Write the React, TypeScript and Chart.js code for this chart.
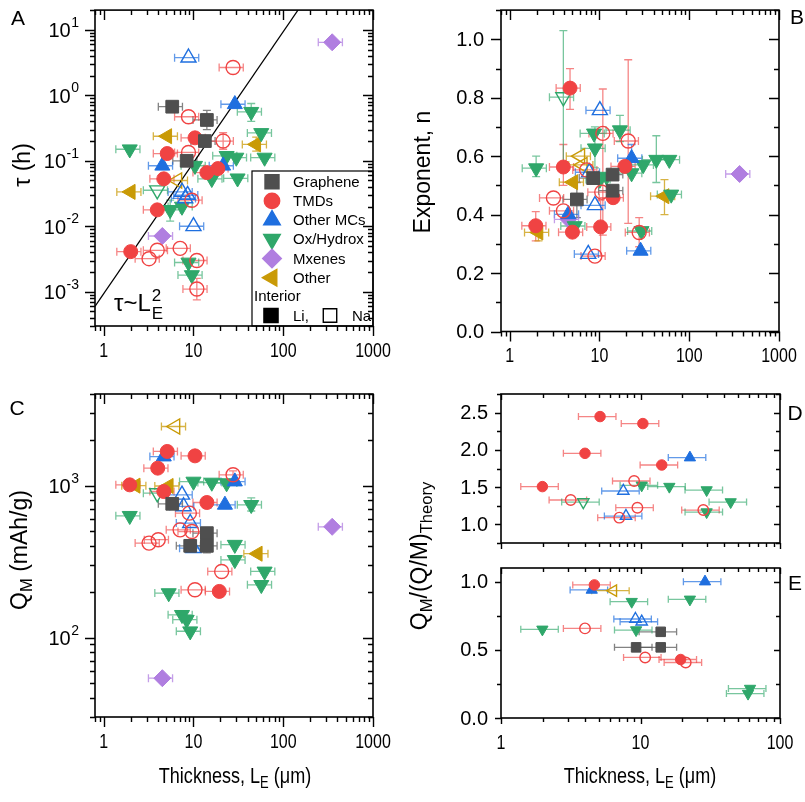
import React, { useEffect, useRef } from 'react';
import { Chart, registerables } from 'chart.js';

Chart.register(...registerables);

// Each point: [x (thickness, um), y, relative x-error, y-error low, y-error high]
type Pt = [number, number, number, number?, number?];

// ---------------- Panel A : tau (h) ----------------
const A_GRA: Pt[] = [[5.8, 0.67, 0.3], [14.1, 0.42, 0.3, 0.30, 0.59], [13.4, 0.2, 0.3], [8.4, 0.1, 0.3]];
const A_TMD_LI: Pt[] = [[10.4, 0.224, 0.3], [5.1, 0.129, 0.3], [14.1, 0.066, 0.3], [18.7, 0.076, 0.3], [4.67, 0.053, 0.3], [3.95, 0.0178, 0.3], [2.0, 0.0041, 0.3]];
const A_TMD_NA: Pt[] = [[27.6, 2.66, 0.3], [8.8, 0.47, 0.3], [21.4, 0.2, 0.3, 0.15, 0.27], [8.8, 0.134, 0.3], [9.6, 0.025, 0.3], [3.95, 0.0043, 0.3], [7.1, 0.0046, 0.3], [3.2, 0.0032, 0.3], [10.9, 0.003, 0.3], [10.9, 0.0011, 0.3, 0.00075, 0.0016]];
const A_OMC_LI: Pt[] = [[28.9, 0.73, 0.3], [4.5, 0.084, 0.3], [21.4, 0.084, 0.3]];
const A_OMC_NA: Pt[] = [[8.8, 3.75, 0.3], [7.45, 0.0335, 0.3], [8.6, 0.03, 0.3], [8.1, 0.0266, 0.3], [10, 0.01, 0.3]];
const A_OX_LI: Pt[] = [[44, 0.56, 0.3, 0.40, 0.75], [56.9, 0.266, 0.3], [1.95, 0.15, 0.3], [23.4, 0.119, 0.3], [30, 0.112, 0.3], [62, 0.112, 0.3], [10.4, 0.084, 0.3], [16, 0.053, 0.3], [31, 0.054, 0.3], [5.5, 0.0178, 0.3, 0.012, 0.025], [7.45, 0.02, 0.3], [8.8, 0.0028, 0.3], [9.6, 0.0018, 0.3]];
const A_OX_NA: Pt[] = [[3.95, 0.0355, 0.3]];
const A_MX: Pt[] = [[351, 6.45, 0.3], [4.5, 0.0071, 0.3]];
const A_OTH_LI: Pt[] = [[5.1, 0.237, 0.3], [50, 0.178, 0.3, 0.14, 0.23], [2.0, 0.0335, 0.3]];
const A_OTH_NA: Pt[] = [[6.6, 0.05, 0.3]];
const A_FIT: [number, number][] = [[0.8, 0.0006], [146, 20]];

// ---------------- Panel B : exponent n ----------------
const B_GRA: Pt[] = [[8.5, 0.525, 0.3], [14, 0.537, 0.3], [14, 0.482, 0.3], [5.6, 0.452, 0.3, 0.39, 0.51]];
const B_TMD_LI: Pt[] = [[4.7, 0.833, 0.3, 0.76, 0.90], [3.96, 0.563, 0.3, 0.50, 0.64], [19.2, 0.565, 0.3], [14.2, 0.458, 0.3], [1.95, 0.362, 0.3, 0.31, 0.41], [5.0, 0.34, 0.3], [10.3, 0.358, 0.3, 0.26, 0.45]];
const B_TMD_NA: Pt[] = [[10.9, 0.678, 0.3, 0.33, 0.83], [20.9, 0.652, 0.3, 0.37, 0.93], [7.2, 0.553, 0.3], [10.6, 0.477, 0.3], [3.07, 0.457, 0.3], [3.96, 0.413, 0.3], [27.7, 0.339, 0.3, 0.29, 0.39], [8.9, 0.258, 0.3]];
const B_OMC_LI: Pt[] = [[22.8, 0.593, 0.3, 0.55, 0.64], [4.5, 0.401, 0.3], [28.7, 0.276, 0.3]];
const B_OMC_NA: Pt[] = [[10.1, 0.757, 0.3], [7.7, 0.545, 0.3], [8.9, 0.432, 0.3], [7.5, 0.265, 0.3]];
const B_OX_LI: Pt[] = [[8.7, 0.678, 0.3], [16.9, 0.689, 0.3, 0.65, 0.74], [8.9, 0.627, 0.3, 0.56, 0.70], [1.97, 0.559, 0.3, 0.53, 0.60], [43, 0.588, 0.3, 0.51, 0.67], [60, 0.588, 0.3], [30.7, 0.57, 0.3], [22.8, 0.542, 0.3], [10.1, 0.52, 0.3], [12, 0.53, 0.3], [5.3, 0.361, 0.3], [29.4, 0.344, 0.3], [63, 0.469, 0.3]];
const B_OX_NA: Pt[] = [[3.96, 0.802, 0.3, 0.58, 1.03]];
const B_MX: Pt[] = [[364, 0.539, 0.3], [4.5, 0.384, 0.3]];
const B_OTH_LI: Pt[] = [[5.1, 0.511, 0.3], [2.09, 0.339, 0.3, 0.31, 0.37], [53, 0.463, 0.3, 0.40, 0.52]];
const B_OTH_NA: Pt[] = [[6.1, 0.6, 0.3], [6.5, 0.57, 0.3]];

// ---------------- Panel C : Q_M (mAh/g) ----------------
const C_GRA: Pt[] = [[5.8, 758, 0.3], [14.1, 486, 0.3], [9.2, 401, 0.3], [14.1, 401, 0.3, 360, 445]];
const C_TMD_LI: Pt[] = [[5.1, 1675, 0.3], [10.4, 1567, 0.3, 1450, 1690], [4.0, 1301, 0.3], [1.95, 1010, 0.3], [4.67, 913, 0.3], [14.1, 773, 0.3], [19.4, 201, 0.3]];
const C_TMD_NA: Pt[] = [[27.6, 1176, 0.3, 1100, 1250], [9.0, 658, 0.3], [7.1, 511, 0.3], [9.6, 498, 0.3], [3.2, 418, 0.3], [4.05, 440, 0.3], [20.6, 272, 0.3], [10.4, 206, 0.3]];
const C_OMC_LI: Pt[] = [[4.67, 1550, 0.3], [28.9, 1062, 0.3], [22.4, 746, 0.3]];
const C_OMC_NA: Pt[] = [[7.45, 869, 0.3], [7.76, 728, 0.3], [9.2, 566, 0.3], [10, 387, 0.3]];
const C_OX_LI: Pt[] = [[10, 1062, 0.3], [16, 1046, 0.3], [23.4, 1037, 0.3], [44, 746, 0.3, 680, 830], [1.95, 632, 0.3], [28.9, 408, 0.3], [28.9, 324, 0.3], [62, 272, 0.3], [57, 222, 0.3], [5.3, 196, 0.3], [7.45, 141, 0.3], [8.4, 131, 0.3], [9.2, 110, 0.3]];
const C_OX_NA: Pt[] = [[3.95, 891, 0.3]];
const C_MX: Pt[] = [[351, 535, 0.3], [4.5, 54, 0.3]];
const C_OTH_LI: Pt[] = [[2.27, 998, 0.3], [5.3, 993, 0.3], [52, 356, 0.3]];
const C_OTH_NA: Pt[] = [[6.28, 2445, 0.3]];

// ---------------- Panel D : Q_M/(Q/M)_Theory ----------------
const D_TMD_LI: Pt[] = [[5.13, 2.447, 0.3], [10.4, 2.353, 0.3], [4.0, 1.954, 0.3], [14.2, 1.797, 0.3], [1.98, 1.507, 0.3]];
const D_TMD_NA: Pt[] = [[9.0, 1.582, 0.3], [3.16, 1.327, 0.3], [9.5, 1.224, 0.3], [28.2, 1.192, 0.3], [7.05, 1.09, 0.3]];
const D_OMC_LI: Pt[] = [[22.6, 1.896, 0.3]];
const D_OMC_NA: Pt[] = [[7.53, 1.448, 0.3], [7.87, 1.112, 0.3]];
const D_OX_LI: Pt[] = [[10.2, 1.524, 0.3], [16.1, 1.507, 0.3], [29.8, 1.461, 0.3], [44.3, 1.30, 0.3], [29.8, 1.165, 0.3]];
const D_OX_NA: Pt[] = [[3.89, 1.30, 0.3]];

// ---------------- Panel E ----------------
const E_GRA: Pt[] = [[13.96, 0.632, 0.3], [9.3, 0.518, 0.3], [13.96, 0.518, 0.3]];
const E_TMD_LI: Pt[] = [[4.67, 0.976, 0.3], [19.4, 0.429, 0.3]];
const E_TMD_NA: Pt[] = [[4.0, 0.657, 0.3], [10.8, 0.444, 0.3], [21.1, 0.407, 0.3]];
const E_OMC_LI: Pt[] = [[4.47, 0.939, 0.3], [29, 1.0, 0.3]];
const E_OMC_NA: Pt[] = [[9.2, 0.726, 0.3], [10.2, 0.706, 0.3]];
const E_OX_LI: Pt[] = [[8.65, 0.853, 0.3], [22.6, 0.87, 0.3], [1.98, 0.65, 0.3], [9.3, 0.645, 0.3], [61, 0.216, 0.3], [59, 0.179, 0.3]];
const E_OTH_NA: Pt[] = [[6.38, 0.934, 0.3]];

const CATEGORIES = ['Graphene', 'TMDs', 'Other MCs', 'Ox/Hydrox', 'Mxenes', 'Other'];
const COLORS: Record<string, string> = {
  Graphene: '#4f4f4f',
  TMDs: '#f04343',
  'Other MCs': '#1f6fdf',
  'Ox/Hydrox': '#2fa76a',
  Mxenes: '#b07ee0',
  Other: '#c99a06',
};
const ERR_COLORS: Record<string, string> = {
  Graphene: 'rgba(90,90,90,0.75)',
  TMDs: 'rgba(240,67,67,0.65)',
  'Other MCs': 'rgba(31,111,223,0.7)',
  'Ox/Hydrox': 'rgba(47,167,106,0.65)',
  Mxenes: 'rgba(176,126,224,0.75)',
  Other: 'rgba(201,154,6,0.75)',
};
// pointStyle, rotation, radius
const SHAPES: Record<string, [string, number, number]> = {
  Graphene: ['rect', 0, 9],
  TMDs: ['circle', 0, 7],
  'Other MCs': ['triangle', 0, 8.7],
  'Ox/Hydrox': ['triangle', 180, 8.7],
  Mxenes: ['rectRot', 0, 8.5],
  Other: ['triangle', 270, 8.7],
};

const W = 805;
const H = 802;
const FONT = '"Liberation Sans", Arial, Helvetica, sans-serif';

interface Series { cat: string; open: boolean; pts: Pt[] }
interface PanelCfg {
  area: [number, number, number, number];
  xRange: [number, number];
  yType: 'logarithmic' | 'linear';
  yRange: [number, number];
  yStep?: [number, number];
  xLabels: boolean;
  size: number;
  tick: [number, number];
  cap: number;
  series: Series[];
  legend?: boolean;
  fit?: [number, number][];
}

function logTicks(min: number, max: number) {
  const major: number[] = [];
  const minor: number[] = [];
  for (let e = Math.floor(Math.log10(min)) - 1; e <= Math.ceil(Math.log10(max)); e++) {
    const b = Math.pow(10, e);
    if (b >= min * 0.999 && b <= max * 1.001) major.push(b);
    for (let m = 2; m <= 9; m++) {
      const v = m * b;
      if (v >= min * 0.999 && v <= max * 1.001) minor.push(v);
    }
  }
  return { major, minor };
}
function linTicks(min: number, max: number, step: number, mstep: number) {
  const major: number[] = [];
  const minor: number[] = [];
  const n = Math.round((max - min) / mstep);
  const start = Math.ceil(min / mstep - 1e-6);
  for (let i = start; i <= start + n + 1; i++) {
    const v = +(i * mstep).toFixed(6);
    if (v < min - 1e-6 || v > max + 1e-6) continue;
    if (Math.abs(v / step - Math.round(v / step)) < 1e-6) major.push(v);
    else minor.push(v);
  }
  return { major, minor };
}

function drawShape(ctx: CanvasRenderingContext2D, shape: string, rot: number, x: number, y: number, r: number, fill: string | null, stroke: string | null) {
  ctx.beginPath();
  if (shape === 'circle') ctx.arc(x, y, r, 0, Math.PI * 2);
  else if (shape === 'rect') {
    const s = r * Math.SQRT1_2;
    ctx.rect(x - s, y - s, 2 * s, 2 * s);
  } else if (shape === 'rectRot') {
    ctx.moveTo(x, y - r); ctx.lineTo(x + r, y); ctx.lineTo(x, y + r); ctx.lineTo(x - r, y); ctx.closePath();
  } else {
    let a = (rot * Math.PI) / 180;
    ctx.moveTo(x + Math.sin(a) * r, y - Math.cos(a) * r);
    a += (2 * Math.PI) / 3;
    ctx.lineTo(x + Math.sin(a) * r, y - Math.cos(a) * r);
    a += (2 * Math.PI) / 3;
    ctx.lineTo(x + Math.sin(a) * r, y - Math.cos(a) * r);
    ctx.closePath();
  }
  if (fill) { ctx.fillStyle = fill; ctx.fill(); }
  if (stroke) { ctx.strokeStyle = stroke; ctx.lineWidth = 1.4; ctx.stroke(); }
}

function makePlugin(cfg: PanelCfg) {
  return {
    id: 'panelDeco',
    beforeDatasetsDraw(chart: any) {
      const ctx: CanvasRenderingContext2D = chart.ctx;
      const { left, top, right, bottom } = chart.chartArea;
      const xs = chart.scales.x;
      const ys = chart.scales.y;
      const cap = cfg.cap;
      ctx.save();
      ctx.beginPath();
      ctx.rect(left, top, right - left, bottom - top);
      ctx.clip();
      ctx.lineWidth = 1.3;
      chart.data.datasets.forEach((ds: any) => {
        if (!ds.errColor) return;
        ctx.strokeStyle = ds.errColor;
        ds.data.forEach((d: any) => {
          const px = xs.getPixelForValue(d.x);
          const py = ys.getPixelForValue(d.y);
          ctx.beginPath();
          if (d.ex) {
            const x1 = xs.getPixelForValue(d.x * (1 - d.ex));
            const x2 = xs.getPixelForValue(d.x * (1 + d.ex));
            ctx.moveTo(x1, py); ctx.lineTo(x2, py);
            ctx.moveTo(x1, py - cap); ctx.lineTo(x1, py + cap);
            ctx.moveTo(x2, py - cap); ctx.lineTo(x2, py + cap);
          }
          if (d.yl != null && d.yh != null) {
            const y1 = ys.getPixelForValue(d.yl);
            const y2 = ys.getPixelForValue(d.yh);
            ctx.moveTo(px, y1); ctx.lineTo(px, y2);
            ctx.moveTo(px - cap, y1); ctx.lineTo(px + cap, y1);
            ctx.moveTo(px - cap, y2); ctx.lineTo(px + cap, y2);
          }
          ctx.stroke();
        });
      });
      ctx.restore();
    },
    afterDraw(chart: any) {
      const ctx: CanvasRenderingContext2D = chart.ctx;
      const { left, top, right, bottom } = chart.chartArea;
      const xs = chart.scales.x;
      const ys = chart.scales.y;
      const [maj, mnr] = cfg.tick;
      ctx.save();
      // legend
      if (cfg.legend) {
        const lx = right - 121;
        const ly = bottom - 155;
        ctx.fillStyle = '#fff';
        ctx.fillRect(lx, ly, right - lx, bottom - ly);
        ctx.strokeStyle = '#000';
        ctx.lineWidth = 1.2;
        ctx.strokeRect(lx, ly, right - lx, bottom - ly);
        ctx.font = `15px ${FONT}`;
        ctx.textBaseline = 'middle';
        ctx.textAlign = 'left';
        CATEGORIES.forEach((cat, i) => {
          const y = ly + 10.7 + 19.2 * i;
          const [shape, rot, r] = SHAPES[cat];
          drawShape(ctx, shape, rot, lx + 20, y, r * 1.1, COLORS[cat], COLORS[cat]);
          ctx.fillStyle = '#000';
          ctx.fillText(cat, lx + 41, y + 1);
        });
        ctx.fillStyle = '#000';
        ctx.fillText('Interior', lx + 2, ly + 126);
        const yy = ly + 144.5;
        drawShape(ctx, 'rect', 0, lx + 19, yy, 10, '#000', '#000');
        ctx.fillStyle = '#000';
        ctx.fillText('Li,', lx + 41, yy + 1);
        drawShape(ctx, 'rect', 0, lx + 78, yy, 9.5, null, '#000');
        ctx.fillStyle = '#000';
        ctx.fillText('Na', lx + 100, yy + 1);
      }
      // frame
      ctx.strokeStyle = '#000';
      ctx.lineWidth = 1.6;
      ctx.strokeRect(left, top, right - left, bottom - top);
      ctx.lineWidth = 1.4;
      const xt = logTicks(cfg.xRange[0], cfg.xRange[1]);
      const yt = cfg.yType === 'logarithmic'
        ? logTicks(cfg.yRange[0], cfg.yRange[1])
        : linTicks(cfg.yRange[0], cfg.yRange[1], cfg.yStep![0], cfg.yStep![1]);
      ctx.beginPath();
      const xTick = (v: number, len: number) => {
        const p = Math.round(xs.getPixelForValue(v)) + 0.5;
        ctx.moveTo(p, bottom); ctx.lineTo(p, bottom + len);
        ctx.moveTo(p, top); ctx.lineTo(p, top + len);
      };
      const yTick = (v: number, len: number) => {
        const p = Math.round(ys.getPixelForValue(v)) + 0.5;
        ctx.moveTo(left, p); ctx.lineTo(left - len, p);
        ctx.moveTo(right, p); ctx.lineTo(right - len, p);
      };
      xt.major.forEach((v) => xTick(v, maj));
      xt.minor.forEach((v) => xTick(v, mnr));
      yt.major.forEach((v) => yTick(v, maj));
      yt.minor.forEach((v) => yTick(v, mnr));
      ctx.stroke();
      // labels
      ctx.fillStyle = '#000';
      if (cfg.xLabels) {
        ctx.font = `20px ${FONT}`;
        ctx.textAlign = 'center';
        ctx.textBaseline = 'middle';
        xt.major.forEach((v) => {
          ctx.save();
          ctx.translate(xs.getPixelForValue(v), bottom + 25);
          ctx.scale(0.8, 1);
          ctx.fillText(String(Math.round(v)), 0, 0);
          ctx.restore();
        });
      }
      const rx = left - maj - 6;
      yt.major.forEach((v) => {
        const py = ys.getPixelForValue(v);
        if (cfg.yType === 'logarithmic') {
          const e = String(Math.round(Math.log10(v)));
          ctx.font = `14px ${FONT}`;
          const we = ctx.measureText(e).width;
          ctx.textAlign = 'right';
          ctx.textBaseline = 'alphabetic';
          ctx.fillText(e, rx, py - 3);
          ctx.font = `20px ${FONT}`;
          ctx.fillText('10', rx - we - 0.5, py + 7.5);
        } else {
          ctx.font = `20px ${FONT}`;
          ctx.textAlign = 'right';
          ctx.textBaseline = 'middle';
          ctx.fillText(v.toFixed(1), rx - 1, py + 1);
        }
      });
      ctx.restore();
    },
  };
}

function buildDatasets(cfg: PanelCfg) {
  const ds: any[] = cfg.series.map((s) => {
    const [shape, rot, r] = SHAPES[s.cat];
    const col = COLORS[s.cat];
    return {
      type: 'scatter',
      label: `${s.cat} ${s.open ? 'Na' : 'Li'}`,
      data: s.pts.map((p) => ({ x: p[0], y: p[1], ex: p[2], yl: p[3], yh: p[4] })),
      pointStyle: shape,
      rotation: rot,
      pointRadius: r * cfg.size,
      backgroundColor: s.open ? 'rgba(255,255,255,0)' : col,
      borderColor: col,
      borderWidth: s.open ? 1.4 : 1,
      errColor: ERR_COLORS[s.cat],
      showLine: false,
    };
  });
  if (cfg.fit) {
    ds.push({
      type: 'line',
      label: 'fit',
      data: cfg.fit.map(([x, y]) => ({ x, y })),
      borderColor: '#000',
      borderWidth: 1.2,
      pointRadius: 0,
      fill: false,
      tension: 0,
    });
  }
  return ds;
}

const PANELS: PanelCfg[] = [
  {
    area: [95, 3, 373, 326], xRange: [0.8, 1000], yType: 'logarithmic', yRange: [3e-4, 20],
    xLabels: true, size: 1, tick: [10, 5], cap: 4, legend: true, fit: A_FIT,
    series: [
      { cat: 'Graphene', open: false, pts: A_GRA },
      { cat: 'TMDs', open: false, pts: A_TMD_LI },
      { cat: 'TMDs', open: true, pts: A_TMD_NA },
      { cat: 'Other MCs', open: false, pts: A_OMC_LI },
      { cat: 'Other MCs', open: true, pts: A_OMC_NA },
      { cat: 'Ox/Hydrox', open: false, pts: A_OX_LI },
      { cat: 'Ox/Hydrox', open: true, pts: A_OX_NA },
      { cat: 'Mxenes', open: false, pts: A_MX },
      { cat: 'Other', open: false, pts: A_OTH_LI },
      { cat: 'Other', open: true, pts: A_OTH_NA },
    ],
  },
  {
    area: [501, 7, 779, 331.5], xRange: [0.8, 1000], yType: 'linear', yRange: [0, 1.1], yStep: [0.2, 0.1],
    xLabels: true, size: 1, tick: [10, 5], cap: 4,
    series: [
      { cat: 'Graphene', open: false, pts: B_GRA },
      { cat: 'TMDs', open: false, pts: B_TMD_LI },
      { cat: 'TMDs', open: true, pts: B_TMD_NA },
      { cat: 'Other MCs', open: false, pts: B_OMC_LI },
      { cat: 'Other MCs', open: true, pts: B_OMC_NA },
      { cat: 'Ox/Hydrox', open: false, pts: B_OX_LI },
      { cat: 'Ox/Hydrox', open: true, pts: B_OX_NA },
      { cat: 'Mxenes', open: false, pts: B_MX },
      { cat: 'Other', open: false, pts: B_OTH_LI },
      { cat: 'Other', open: true, pts: B_OTH_NA },
    ],
  },
  {
    area: [95, 394, 373, 717], xRange: [0.8, 1000], yType: 'logarithmic', yRange: [30, 4000],
    xLabels: true, size: 1, tick: [10, 5], cap: 4,
    series: [
      { cat: 'Graphene', open: false, pts: C_GRA },
      { cat: 'TMDs', open: false, pts: C_TMD_LI },
      { cat: 'TMDs', open: true, pts: C_TMD_NA },
      { cat: 'Other MCs', open: false, pts: C_OMC_LI },
      { cat: 'Other MCs', open: true, pts: C_OMC_NA },
      { cat: 'Ox/Hydrox', open: false, pts: C_OX_LI },
      { cat: 'Ox/Hydrox', open: true, pts: C_OX_NA },
      { cat: 'Mxenes', open: false, pts: C_MX },
      { cat: 'Other', open: false, pts: C_OTH_LI },
      { cat: 'Other', open: true, pts: C_OTH_NA },
    ],
  },
  {
    area: [501, 394, 780, 543], xRange: [1, 100], yType: 'linear', yRange: [0.75, 2.75], yStep: [0.5, 0.25],
    xLabels: false, size: 0.75, tick: [6, 4], cap: 3.5,
    series: [
      { cat: 'TMDs', open: false, pts: D_TMD_LI },
      { cat: 'TMDs', open: true, pts: D_TMD_NA },
      { cat: 'Other MCs', open: false, pts: D_OMC_LI },
      { cat: 'Other MCs', open: true, pts: D_OMC_NA },
      { cat: 'Ox/Hydrox', open: false, pts: D_OX_LI },
      { cat: 'Ox/Hydrox', open: true, pts: D_OX_NA },
    ],
  },
  {
    area: [501, 568, 780, 718], xRange: [1, 100], yType: 'linear', yRange: [0, 1.1], yStep: [0.5, 0.25],
    xLabels: true, size: 0.75, tick: [6, 4], cap: 3.5,
    series: [
      { cat: 'Graphene', open: false, pts: E_GRA },
      { cat: 'TMDs', open: false, pts: E_TMD_LI },
      { cat: 'TMDs', open: true, pts: E_TMD_NA },
      { cat: 'Other MCs', open: false, pts: E_OMC_LI },
      { cat: 'Other MCs', open: true, pts: E_OMC_NA },
      { cat: 'Ox/Hydrox', open: false, pts: E_OX_LI },
      { cat: 'Other', open: true, pts: E_OTH_NA },
    ],
  },
];

function PanelChart({ cfg }: { cfg: PanelCfg }) {
  const ref = useRef<HTMLCanvasElement | null>(null);
  useEffect(() => {
    if (!ref.current) return;
    const [l, t, r, b] = cfg.area;
    const chart = new Chart(ref.current, {
      type: 'scatter',
      data: { datasets: buildDatasets(cfg) },
      options: {
        responsive: false,
        animation: false,
        events: [],
        layout: { padding: { left: l, top: t, right: W - r, bottom: H - b } },
        plugins: { legend: { display: false }, tooltip: { enabled: false } },
        scales: {
          x: { type: 'logarithmic', min: cfg.xRange[0], max: cfg.xRange[1], display: false },
          y: { type: cfg.yType, min: cfg.yRange[0], max: cfg.yRange[1], display: false },
        },
      } as any,
      plugins: [makePlugin(cfg)],
    });
    return () => chart.destroy();
  }, [cfg]);
  return (
    <canvas ref={ref} width={W} height={H} style={{ position: 'absolute', left: 0, top: 0, width: W, height: H }} />
  );
}

const sub: React.CSSProperties = { fontSize: '0.72em', verticalAlign: '-0.3em' };

function Label({ x, y, size, rotate, sx, children }: { x: number; y: number; size: number; rotate?: boolean; sx?: number; children: React.ReactNode }) {
  return (
    <div
      style={{
        position: 'absolute',
        left: x,
        top: y,
        transform: `translate(-50%, -50%)${rotate ? ' rotate(-90deg)' : ''}${sx ? ` scaleX(${sx})` : ''}`,
        whiteSpace: 'nowrap',
        fontSize: size,
        lineHeight: 1,
        fontFamily: FONT,
        color: '#000',
      }}
    >
      {children}
    </div>
  );
}

export default function App() {
  return (
    <div style={{ position: 'absolute', left: 0, top: 0, width: W, height: H, background: '#fff', overflow: 'hidden', fontFamily: FONT }}>
      {PANELS.map((p, i) => (
        <PanelChart key={i} cfg={p} />
      ))}
      <Label x={18} y={17} size={21}>A</Label>
      <Label x={797} y={16} size={21}>B</Label>
      <Label x={17} y={407} size={21}>C</Label>
      <Label x={795} y={412} size={21}>D</Label>
      <Label x={795} y={582} size={21}>E</Label>

      <Label x={22} y={165} size={23} rotate>τ (h)</Label>
      <Label x={422} y={172} size={23} rotate>Exponent, n</Label>
      <Label x={22} y={550} size={23} rotate>
        Q<span style={sub}>M</span> (mAh/g)
      </Label>
      <Label x={422} y={556} size={23} rotate>
        Q<span style={sub}>M</span>/(Q/M)<span style={sub}>Theory</span>
      </Label>
      <Label x={235} y={778} size={22} sx={0.82}>
        Thickness, L<span style={sub}>E</span> (μm)
      </Label>
      <Label x={640} y={778} size={22} sx={0.82}>
        Thickness, L<span style={sub}>E</span> (μm)
      </Label>

      <div style={{ position: 'absolute', left: 114, top: 287, fontFamily: FONT, fontSize: 24, lineHeight: 1, whiteSpace: 'nowrap', display: 'flex', alignItems: 'flex-start' }}>
        <span style={{ marginTop: 4 }}>τ~L</span>
        <span style={{ display: 'inline-flex', flexDirection: 'column', fontSize: 17, lineHeight: 1, marginLeft: 1 }}>
          <span>2</span>
          <span style={{ marginTop: 1 }}>E</span>
        </span>
      </div>
    </div>
  );
}
